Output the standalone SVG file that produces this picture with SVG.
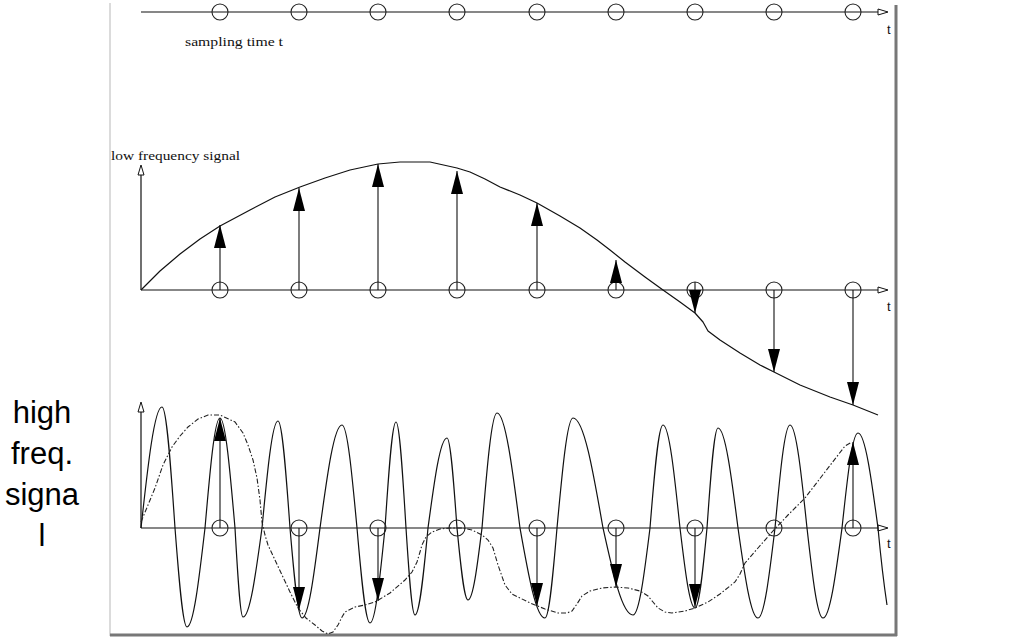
<svg xmlns="http://www.w3.org/2000/svg" width="1024" height="640" viewBox="0 0 1024 640">
<style>
.ax{stroke:#111;stroke-width:1.2;fill:none}
.circ{stroke:#222;stroke-width:1.1;fill:none}
.stem{stroke:#111;stroke-width:1.1;fill:none;marker-end:url(#ah)}
.oarr{fill:#fff;stroke:#111;stroke-width:1}
.sig{stroke:#111;stroke-width:1.2;fill:none;stroke-linejoin:round}
.dash{stroke:#222;stroke-width:1.1;fill:none;stroke-dasharray:5 2 1.5 2}
.small{font-family:"Liberation Serif","DejaVu Serif",serif;font-size:12px;fill:#111}
.tl{font-family:"Liberation Sans",Arial,sans-serif;font-size:13px;fill:#111}
.side{font-family:"Liberation Sans",Arial,sans-serif;font-size:31px;fill:#000;text-anchor:middle}
</style>
<defs>
<marker id="ah" viewBox="0 0 23 12" markerWidth="23" markerHeight="12" refX="23" refY="6" orient="auto" markerUnits="userSpaceOnUse">
<path d="M0,0 L23,6 L0,12 Z" fill="#000"/>
</marker>
</defs>
<rect width="1024" height="640" fill="#fff"/>
<g id="frame">
<line x1="110" y1="3" x2="110" y2="636" stroke="#cfcfcf" stroke-width="1.5"/>
<line x1="896" y1="5" x2="896" y2="636" stroke="#777" stroke-width="3"/>
<line x1="110" y1="635" x2="897" y2="635" stroke="#777" stroke-width="3"/>
</g>
<g id="side-label">
<text class="side" x="42" y="423">high</text>
<text class="side" x="42" y="464">freq.</text>
<text class="side" x="42" y="505">signa</text>
<text class="side" x="42" y="546">l</text>
</g>
<g id="top-panel">
<line class="ax" x1="141" y1="12" x2="880" y2="12"/>
<polygon class="oarr" points="878,9 888,12 878,15"/>
<text class="tl" x="887" y="34">t</text>
<text class="small" x="185" y="46" textLength="98" lengthAdjust="spacingAndGlyphs">sampling time t</text>
<g id="top-circles">
<circle class="circ" cx="220" cy="12" r="8"/><circle class="circ" cx="299" cy="12" r="8"/><circle class="circ" cx="378" cy="12" r="8"/><circle class="circ" cx="457" cy="12" r="8"/><circle class="circ" cx="537" cy="12" r="8"/><circle class="circ" cx="616" cy="12" r="8"/><circle class="circ" cx="695" cy="12" r="8"/><circle class="circ" cx="774" cy="12" r="8"/><circle class="circ" cx="853" cy="12" r="8"/>
</g>
</g>
<g id="low-panel">
<line class="ax" x1="141" y1="290" x2="880" y2="290"/>
<polygon class="oarr" points="878,287 888,290 878,293"/>
<line class="ax" x1="141" y1="290" x2="141" y2="173"/>
<polygon class="oarr" points="138,175 141,165 144,175"/>
<text class="small" x="111" y="160" textLength="129" lengthAdjust="spacingAndGlyphs">low frequency signal</text>
<text class="tl" x="887" y="311">t</text>
<path class="sig" d="M141,290 L160,271 L180,254 L200,239 L220,226 L250,210 L275,197 L300,187 L325,178 L350,170 L378,164 L400,162 L430,162 L457,168 L470,172 L485,179 L500,187 L520,195 L537,203 L560,216 L580,228 L597,240 L610,250 L625,262 L645,277 L663,290 L680,302 L695,313 L703,322 L708,331 L720,340 L740,353 L760,365 L774,372 L800,385 L830,397 L853,405 L878,415"/>
<g id="low-circles">
<circle class="circ" cx="220" cy="290" r="8"/><circle class="circ" cx="299" cy="290" r="8"/><circle class="circ" cx="378" cy="290" r="8"/><circle class="circ" cx="457" cy="290" r="8"/><circle class="circ" cx="537" cy="290" r="8"/><circle class="circ" cx="616" cy="290" r="8"/><circle class="circ" cx="695" cy="290" r="8"/><circle class="circ" cx="774" cy="290" r="8"/><circle class="circ" cx="853" cy="290" r="8"/>
</g>
<g id="low-samples">
<line class="stem" x1="220" y1="290" x2="220" y2="225"/>
<line class="stem" x1="299" y1="290" x2="299" y2="188"/>
<line class="stem" x1="378" y1="290" x2="378" y2="164"/>
<line class="stem" x1="457" y1="290" x2="457" y2="171"/>
<line class="stem" x1="537" y1="290" x2="537" y2="203"/>
<line class="stem" x1="616" y1="290" x2="616" y2="260"/>
<line class="stem" x1="695" y1="282" x2="695" y2="313"/>
<line class="stem" x1="774" y1="290" x2="774" y2="372"/>
<line class="stem" x1="853" y1="290" x2="853" y2="405"/>
</g>
</g>
<g id="high-panel">
<line class="ax" x1="141" y1="528" x2="880" y2="528"/>
<polygon class="oarr" points="878,525 888,528 878,531"/>
<line class="ax" x1="141" y1="528" x2="141" y2="410"/>
<polygon class="oarr" points="138,412 141,402 144,412"/>
<text class="tl" x="887" y="548">t</text>
<path class="sig" d="M141,528 C147.8,466 154.4,407 162,407 C166.7,407 170.8,466 175,528 C178.9,578.7 182.7,627 187,627 C193.5,627 199.1,578.7 205,528 C209.9,471.7 214.6,418 220,418 C225.4,418 230.1,471.7 235,528 C237.6,573.6 240.1,617 243,617 C249.9,617 255.8,573.6 262,528 C267.2,473.2 272.2,421 278,421 C282.3,421 286.1,473.2 290,528 C293.9,574.1 297.7,618 302,618 C308.5,618 314.1,574.1 320,528 C327.2,475.3 334,425 342,425 C347.4,425 352.1,475.3 357,528 C361.2,576.6 365.3,623 370,623 C375.4,623 380.1,576.6 385,528 C388.6,473.7 392,422 396,422 C399.6,422 402.7,473.7 406,528 C408.9,572.5 411.7,615 415,615 C419.7,615 423.8,572.5 428,528 C434.2,481.9 440.1,438 447,438 C450.6,438 453.7,481.9 457,528 C460.6,564.9 464,600 468,600 C473.1,600 477.4,564.9 482,528 C486.9,469.1 491.6,413 497,413 C505.3,413 512.5,469.1 520,528 C528.2,574.1 536,618 545,618 C549.3,618 553.1,574.1 557,528 C562.2,471.7 567.2,418 573,418 C583.9,418 593.2,471.7 603,528 C612.8,572.5 622.1,615 633,615 C639.2,615 644.5,572.5 650,528 C654.2,475.3 658.3,425 663,425 C669.2,425 674.5,475.3 680,528 C684.9,569 689.6,608 695,608 C699.3,608 703.1,569 707,528 C710.6,476.8 714,428 718,428 C725.2,428 731.5,476.8 738,528 C744.5,574.1 750.8,618 758,618 C764.2,618 769.5,574.1 775,528 C779.9,475.3 784.6,425 790,425 C796.2,425 801.5,475.3 807,528 C812.2,574.1 817.2,618 823,618 C829.9,618 835.8,574.1 842,528 C847.2,479.4 852.2,433 858,433 C865.2,433 871.5,479.4 878,528 C881,560 884,585 887,605"/>
<path class="dash" d="M141,522 L148,505 L155,488 L163,465 L172,447 L180,436 L188,427 L198,419 L208,415 L220,415 L235,422 L243,433 L248,445 L253,460 L257,478 L260,500 L262,522 L265,535 L268,545 L275,560 L282,575 L290,592 L298,608 L306,618 L315,625 L322,631 L328,634 L333,632 L338,625 L342,617 L345,612 L355,607 L365,605 L375,602 L390,593 L405,580 L412,572 L417,562 L420,552 L422,545 L426,537 L432,532 L440,529 L450,528 L462,528 L472,530 L482,535 L488,540 L493,548 L498,565 L505,585 L512,594 L520,598 L528,602 L535,605 L545,609 L558,613 L567,613 L572,611 L577,604 L582,596 L590,591 L602,588 L615,587 L628,588 L640,591 L648,596 L653,602 L658,608 L665,612 L672,613 L685,611 L695,608 L708,602 L720,594 L735,582 L740,574 L745,563 L758,548 L772,532 L788,515 L805,498 L825,472 L845,446 L852,442"/>
<g id="high-circles">
<circle class="circ" cx="220" cy="528" r="8"/><circle class="circ" cx="299" cy="528" r="8"/><circle class="circ" cx="378" cy="528" r="8"/><circle class="circ" cx="457" cy="528" r="8"/><circle class="circ" cx="537" cy="528" r="8"/><circle class="circ" cx="616" cy="528" r="8"/><circle class="circ" cx="695" cy="528" r="8"/><circle class="circ" cx="774" cy="528" r="8"/><circle class="circ" cx="853" cy="528" r="8"/>
</g>
<g id="high-samples">
<line class="stem" x1="220" y1="528" x2="220" y2="418"/>
<line class="stem" x1="299" y1="528" x2="299" y2="610"/>
<line class="stem" x1="378" y1="528" x2="378" y2="601"/>
<line class="stem" x1="537" y1="528" x2="537" y2="606"/>
<line class="stem" x1="616" y1="528" x2="616" y2="587"/>
<line class="stem" x1="695" y1="528" x2="695" y2="607"/>
<line class="stem" x1="853" y1="528" x2="853" y2="442"/>
</g>
</g>
</svg>
